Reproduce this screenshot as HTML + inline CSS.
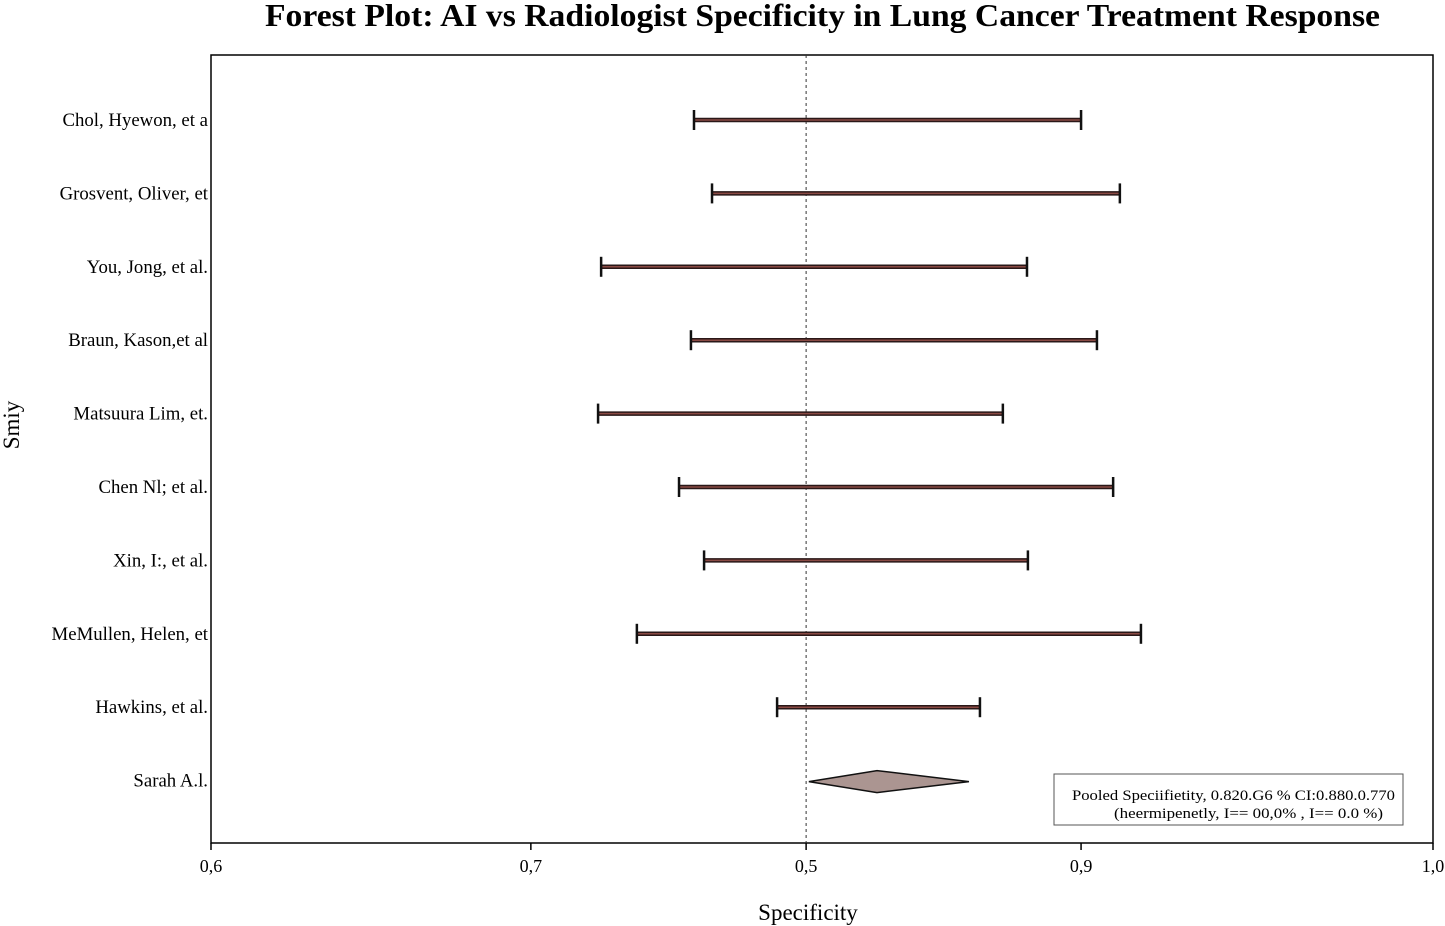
<!DOCTYPE html>
<html><head><meta charset="utf-8"><style>
html,body{margin:0;padding:0;background:#fff;}
svg{display:block;font-family:"Liberation Serif",serif;}
</style></head><body>
<svg id="chart" width="1445" height="926" viewBox="0 0 1445 926">
<text x="265" y="26" font-size="32" font-weight="bold" textLength="1115" lengthAdjust="spacingAndGlyphs">Forest Plot: AI vs Radiologist Specificity in Lung Cancer Treatment Response</text>
<rect x="211" y="55" width="1222" height="788" fill="none" stroke="#000" stroke-width="1.5"/>
<text x="808" y="920" text-anchor="middle" font-size="23">Specificity</text>
<text transform="translate(19,425) rotate(-90)" text-anchor="middle" font-size="23">Smiy</text>
<g id="g"></g>
<rect x="1054" y="774" width="349" height="51" fill="#fff" stroke="#555" stroke-width="1"/>
<text x="1072" y="800" font-size="15" textLength="323" lengthAdjust="spacingAndGlyphs">Pooled Speciifietity, 0.820.G6 % CI:0.880.0.770</text>
<text x="1114" y="818" font-size="15" textLength="269" lengthAdjust="spacingAndGlyphs">(heermipenetly, I== 00,0% , I== 0.0 %)</text>
</svg>
<script>
const studies=["Chol, Hyewon, et a","Grosvent, Oliver, et","You, Jong, et al.","Braun, Kason,et al","Matsuura Lim, et.","Chen Nl; et al.","Xin, I:, et al.","MeMullen, Helen, et","Hawkins, et al."];
const lower=[0.7581,0.7640,0.7277,0.7571,0.7267,0.7532,0.7614,0.7394,0.7853];
const upper=[0.8848,0.8975,0.8671,0.8900,0.8592,0.8953,0.8674,0.9044,0.8517];
const pooledLabel="Sarah A.l.";
const pooled=[0.7957,0.8180,0.8481];
const tickValues=[0.6,0.7047,0.7948,0.8848,1.0];
const tickLabels=["0,6","0,7","0,5","0,9","1,0"];
const refValue=0.7948;
const NS="http://www.w3.org/2000/svg";
const g=document.getElementById('g');
const X=v=>211+(v-0.6)/0.4*1222;
const Y=i=>120+i*73.4;
function mk(t,a,txt){const e=document.createElementNS(NS,t);for(const k in a)e.setAttribute(k,a[k]);if(txt!==undefined)e.textContent=txt;g.appendChild(e);return e;}
tickValues.forEach((v,i)=>{
 const t=mk('line',{x1:X(v),x2:X(v),y1:843,y2:850,stroke:'#000','stroke-width':1.5});
 
 
 const l=mk('text',{x:X(v),y:872,'text-anchor':'middle','font-size':18},tickLabels[i]);
 
 
});
const rl=mk('line',{x1:X(refValue),x2:X(refValue),y1:55,y2:843,stroke:'#333','stroke-width':1,'stroke-dasharray':'3,3'});


studies.forEach((s,i)=>{
 const y=Y(i);
 const lab=mk('text',{x:208,y:y+6,'text-anchor':'end','font-size':18.8},s);
 
 
 const b=mk('line',{x1:X(lower[i]),x2:X(upper[i]),y1:y,y2:y,stroke:'#2a1818','stroke-width':4.5});
 
 
 const c=mk('line',{x1:X(lower[i]),x2:X(upper[i]),y1:y,y2:y,stroke:'#8a4a44','stroke-width':1.5});
 
 
 [lower[i],upper[i]].forEach(v=>{
  const k=mk('line',{x1:X(v),x2:X(v),y1:y-10,y2:y+10,stroke:'#111','stroke-width':2.5});
  
  
 });
});
const py=Y(9)+1;
const pl=mk('text',{x:208,y:py+5,'text-anchor':'end','font-size':18.8},pooledLabel);


const d=mk('polygon',{points:`${X(pooled[0])},${py} ${X(pooled[1])},${py-11} ${X(pooled[2])},${py} ${X(pooled[1])},${py+11}`,fill:'#ab9591',stroke:'#111','stroke-width':1.5});


</script>
</body></html>
